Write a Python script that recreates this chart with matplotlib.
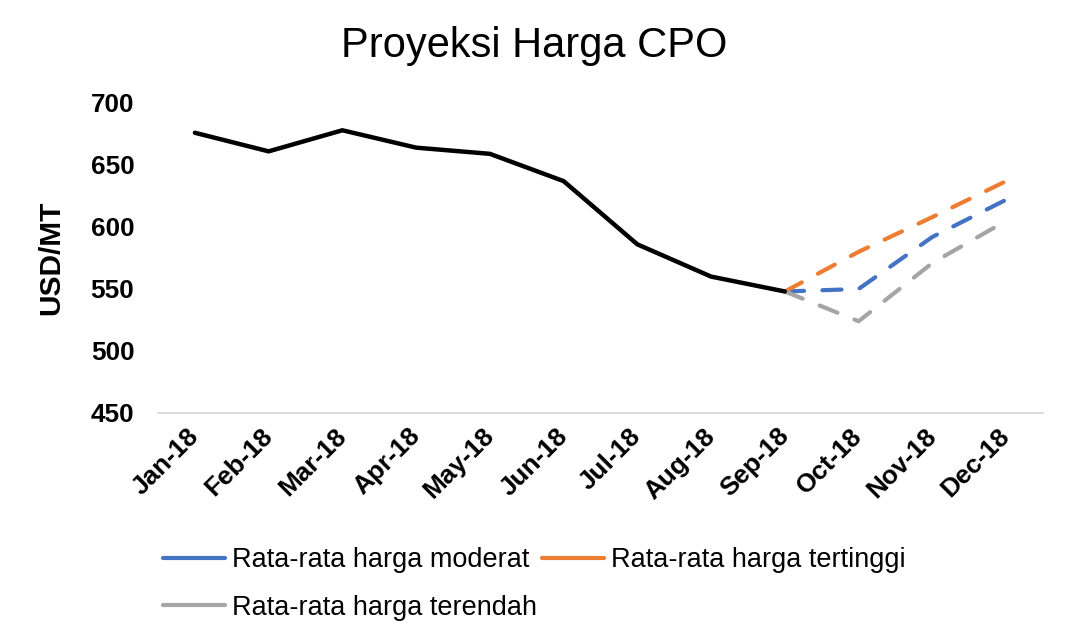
import matplotlib
matplotlib.use("Agg")
import matplotlib.pyplot as plt
from matplotlib.transforms import ScaledTranslation

months = ["Jan-18", "Feb-18", "Mar-18", "Apr-18", "May-18", "Jun-18",
          "Jul-18", "Aug-18", "Sep-18", "Oct-18", "Nov-18", "Dec-18"]
actual = [676, 661, 678, 664, 659, 637, 586, 560, 548]
forecast_months = ["Sep-18", "Oct-18", "Nov-18", "Dec-18"]
moderat = [548, 550, 592, 622]
tertinggi = [548, 580, 608, 637]
terendah = [548, 524, 571, 605]

plt.rcParams['font.family'] = ['Liberation Sans', 'DejaVu Sans']

fig = plt.figure(figsize=(10.85, 6.4), dpi=100)
ax = fig.add_axes([158/1085, 1-413/640, (1043-158)/1085, (413-103)/640])

xi = {m: i for i, m in enumerate(months)}
ax.plot([xi[m] for m in months[:len(actual)]], actual, color='black', lw=3.2,
        solid_capstyle='round', solid_joinstyle='round', zorder=3)

fx = [xi[m] for m in forecast_months]
series = [("Rata-rata harga moderat", moderat, '#4472C4'),
          ("Rata-rata harga tertinggi", tertinggi, '#ED7D31'),
          ("Rata-rata harga terendah", terendah, '#A5A5A5')]
handles = []
for lab, vals, col in series:
    ln, = ax.plot(fx, vals, color=col, lw=3.0, dashes=(4.6, 4.4),
                  dash_capstyle='round', label=lab, zorder=2)
    handles.append(ln)

ax.set_xlim(-0.5, 11.5)
ax.set_ylim(450, 700)
ax.set_yticks([450, 500, 550, 600, 650, 700])
ax.set_xticks(range(len(months)))
ax.set_xticklabels(months, rotation=45, ha='right', va='center', rotation_mode='anchor',
                   fontsize=18.8, fontweight='bold')
off = ScaledTranslation(-6/100, -3/100, fig.dpi_scale_trans)
for t in ax.get_xticklabels():
    t.set_transform(t.get_transform() + off)
for t in ax.get_yticklabels():
    t.set_fontsize(18.8)
    t.set_fontweight('bold')
ax.tick_params(axis='both', length=0)
ax.tick_params(axis='y', pad=17)
ax.tick_params(axis='x', pad=14)

for s in ['top', 'right', 'left']:
    ax.spines[s].set_visible(False)
ax.spines['bottom'].set_color('#D9D9D9')
ax.spines['bottom'].set_linewidth(1.3)

ax.set_ylabel("USD/MT", fontsize=21.5, fontweight='bold', labelpad=18)
fig.text(534/1085, 1-46/640, "Proyeksi Harga CPO", fontsize=30, ha='center', va='center')

leg = fig.legend(handles=[handles[0], handles[2], handles[1]],
                 labels=[series[0][0], series[2][0], series[1][0]],
                 ncol=2, loc='upper left', bbox_to_anchor=(163/1085, 1-547/640),
                 frameon=False, fontsize=19.5, handlelength=2.3, handletextpad=0.25,
                 columnspacing=0.18, labelspacing=0.8, borderpad=0, borderaxespad=0)
for l in leg.get_lines():
    l.set_linestyle('-')
    l.set_solid_capstyle('round')

fig.savefig("out.png", dpi=100, facecolor='white')
